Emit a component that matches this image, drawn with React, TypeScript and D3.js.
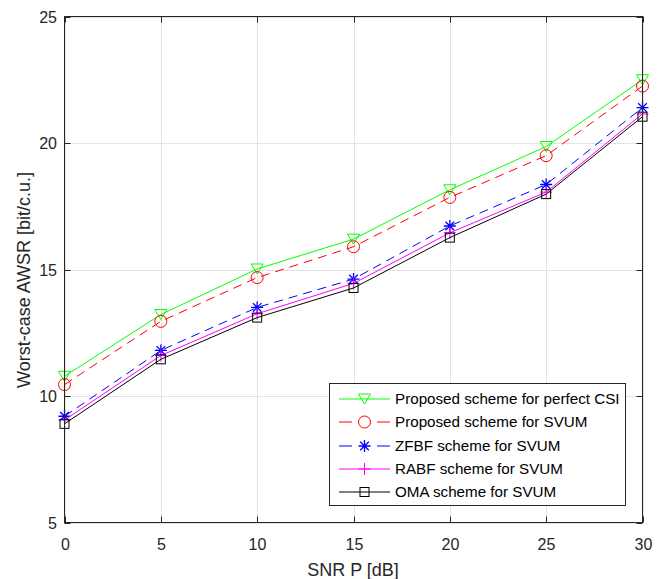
import React from "react";
import * as d3 from "d3";

const snr = [0, 5, 10, 15, 20, 25, 30];
const perfectCSI = [10.78, 13.22, 15.02, 16.2, 18.15, 19.86, 22.5];
const proposedSVUM = [10.45, 12.95, 14.68, 15.9, 17.85, 19.5, 22.25];
const zfbf = [9.2, 11.8, 13.5, 14.62, 16.72, 18.36, 21.4];
const rabf = [9.05, 11.6, 13.25, 14.45, 16.45, 18.06, 21.15];
const oma = [8.9, 11.45, 13.1, 14.27, 16.26, 17.98, 21.04];
const seriesNames = [
  "Proposed scheme for perfect CSI",
  "Proposed scheme for SVUM",
  "ZFBF scheme for SVUM",
  "RABF scheme for SVUM",
  "OMA scheme for SVUM",
];
const xTicks = [0, 5, 10, 15, 20, 25, 30];
const yTicks = [5, 10, 15, 20, 25];

const W = 664, H = 579;
const L = 64.5, R = 642.5, T = 16.5, B = 522.5;

type Mk = "tri" | "circle" | "star" | "plus" | "square";

function Marker({ kind, x, y, color }: { kind: Mk; x: number; y: number; color: string }) {
  const p = { fill: "none", stroke: color, strokeWidth: 1 };
  switch (kind) {
    case "tri":
      return <path d={`M${x - 6},${y - 5}L${x + 6},${y - 5}L${x},${y + 5}Z`} {...p} />;
    case "circle":
      return <circle cx={x} cy={y} r={6} {...p} />;
    case "square":
      return <rect x={x - 4.5} y={y - 4.5} width={9} height={9} {...p} />;
    case "plus":
      return <path d={`M${x - 6},${y}L${x + 6},${y}M${x},${y - 6}L${x},${y + 6}`} {...p} />;
    case "star": {
      const r = 6, q = 4.3;
      return (
        <path
          d={`M${x - r},${y}L${x + r},${y}M${x},${y - r}L${x},${y + r}M${x - q},${y - q}L${x + q},${y + q}M${x - q},${y + q}L${x + q},${y - q}`}
          {...p}
          strokeWidth={1.3}
        />
      );
    }
  }
}

export default function App() {
  const x = d3.scaleLinear().domain([0, 30]).range([L, R]);
  const y = d3.scaleLinear().domain([5, 25]).range([B, T]);
  const series = [
    { vals: perfectCSI, color: "#00ff00", dash: undefined, mk: "tri" as Mk },
    { vals: proposedSVUM, color: "#ff0000", dash: "9,6", mk: "circle" as Mk },
    { vals: zfbf, color: "#0000ff", dash: "9,6", mk: "star" as Mk },
    { vals: rabf, color: "#ff00ff", dash: undefined, mk: "plus" as Mk },
    { vals: oma, color: "#000000", dash: undefined, mk: "square" as Mk },
  ];
  const line = d3
    .line<number>()
    .x((_, i) => x(snr[i]))
    .y((d) => y(d));
  const font = "Liberation Sans, Arial, Helvetica, sans-serif";
  const axisColor = "#262626";
  const legX = 329.5, legY = 383.5, legW = 296, legH = 122;
  const rowY = [399, 422, 446, 469, 492];
  return (
    <svg width={W} height={H} style={{ position: "absolute", left: 0, top: 0, background: "#fff" }} fontFamily={font}>
      <rect x={0} y={0} width={W} height={H} fill="#fff" />
      {/* grid */}
      {xTicks.map((t) => (
        <line key={"gx" + t} x1={Math.round(x(t)) + 0.5} x2={Math.round(x(t)) + 0.5} y1={T} y2={B} stroke="#e3e3e3" strokeWidth={1} />
      ))}
      {yTicks.map((t) => (
        <line key={"gy" + t} x1={L} x2={R} y1={Math.round(y(t)) + 0.5} y2={Math.round(y(t)) + 0.5} stroke="#e3e3e3" strokeWidth={1} />
      ))}
      {/* series */}
      {series.map((s, si) => (
        <g key={si}>
          <path d={line(s.vals) || ""} fill="none" stroke={s.color} strokeWidth={1} strokeDasharray={s.dash} />
          {s.vals.map((v, i) => (
            <Marker key={i} kind={s.mk} x={x(snr[i])} y={y(v)} color={s.color} />
          ))}
        </g>
      ))}
      {/* axes box */}
      <rect x={L} y={T} width={R - L} height={B - T} fill="none" stroke={axisColor} strokeWidth={1} />
      {xTicks.map((t) => {
        const px = Math.round(x(t)) + 0.5;
        return (
          <g key={"tx" + t}>
            <line x1={px} x2={px} y1={B} y2={B - 6} stroke={axisColor} />
            <line x1={px} x2={px} y1={T} y2={T + 6} stroke={axisColor} />
            <text x={px} y={550} fontSize={16} textAnchor="middle" fill="#262626">
              {t}
            </text>
          </g>
        );
      })}
      {yTicks.map((t) => {
        const py = Math.round(y(t)) + 0.5;
        return (
          <g key={"ty" + t}>
            <line x1={L} x2={L + 6} y1={py} y2={py} stroke={axisColor} />
            <line x1={R} x2={R - 6} y1={py} y2={py} stroke={axisColor} />
            <text x={57} y={py} dy="0.36em" fontSize={16} textAnchor="end" fill="#262626">
              {t}
            </text>
          </g>
        );
      })}
      {/* axis labels */}
      <text x={353} y={576} fontSize={18} textAnchor="middle" fill="#262626">
        SNR P [dB]
      </text>
      <text transform={`translate(30,280) rotate(-90)`} fontSize={18} textAnchor="middle" fill="#262626">
        Worst-case AWSR [bit/c.u.]
      </text>
      {/* legend */}
      <rect x={legX} y={legY} width={legW} height={legH} fill="#fff" stroke={axisColor} strokeWidth={1} />
      {series.map((s, i) => (
        <g key={"lg" + i}>
          {s.dash ? (
            <>
              <line x1={339} x2={352} y1={rowY[i]} y2={rowY[i]} stroke={s.color} />
              <line x1={377} x2={390} y1={rowY[i]} y2={rowY[i]} stroke={s.color} />
            </>
          ) : (
            <line x1={339} x2={390} y1={rowY[i]} y2={rowY[i]} stroke={s.color} />
          )}
          <Marker kind={s.mk} x={364.5} y={rowY[i]} color={s.color} />
          <text x={395} y={rowY[i]} dy="0.36em" fontSize={15.2} fill="#000">
            {seriesNames[i]}
          </text>
        </g>
      ))}
    </svg>
  );
}
